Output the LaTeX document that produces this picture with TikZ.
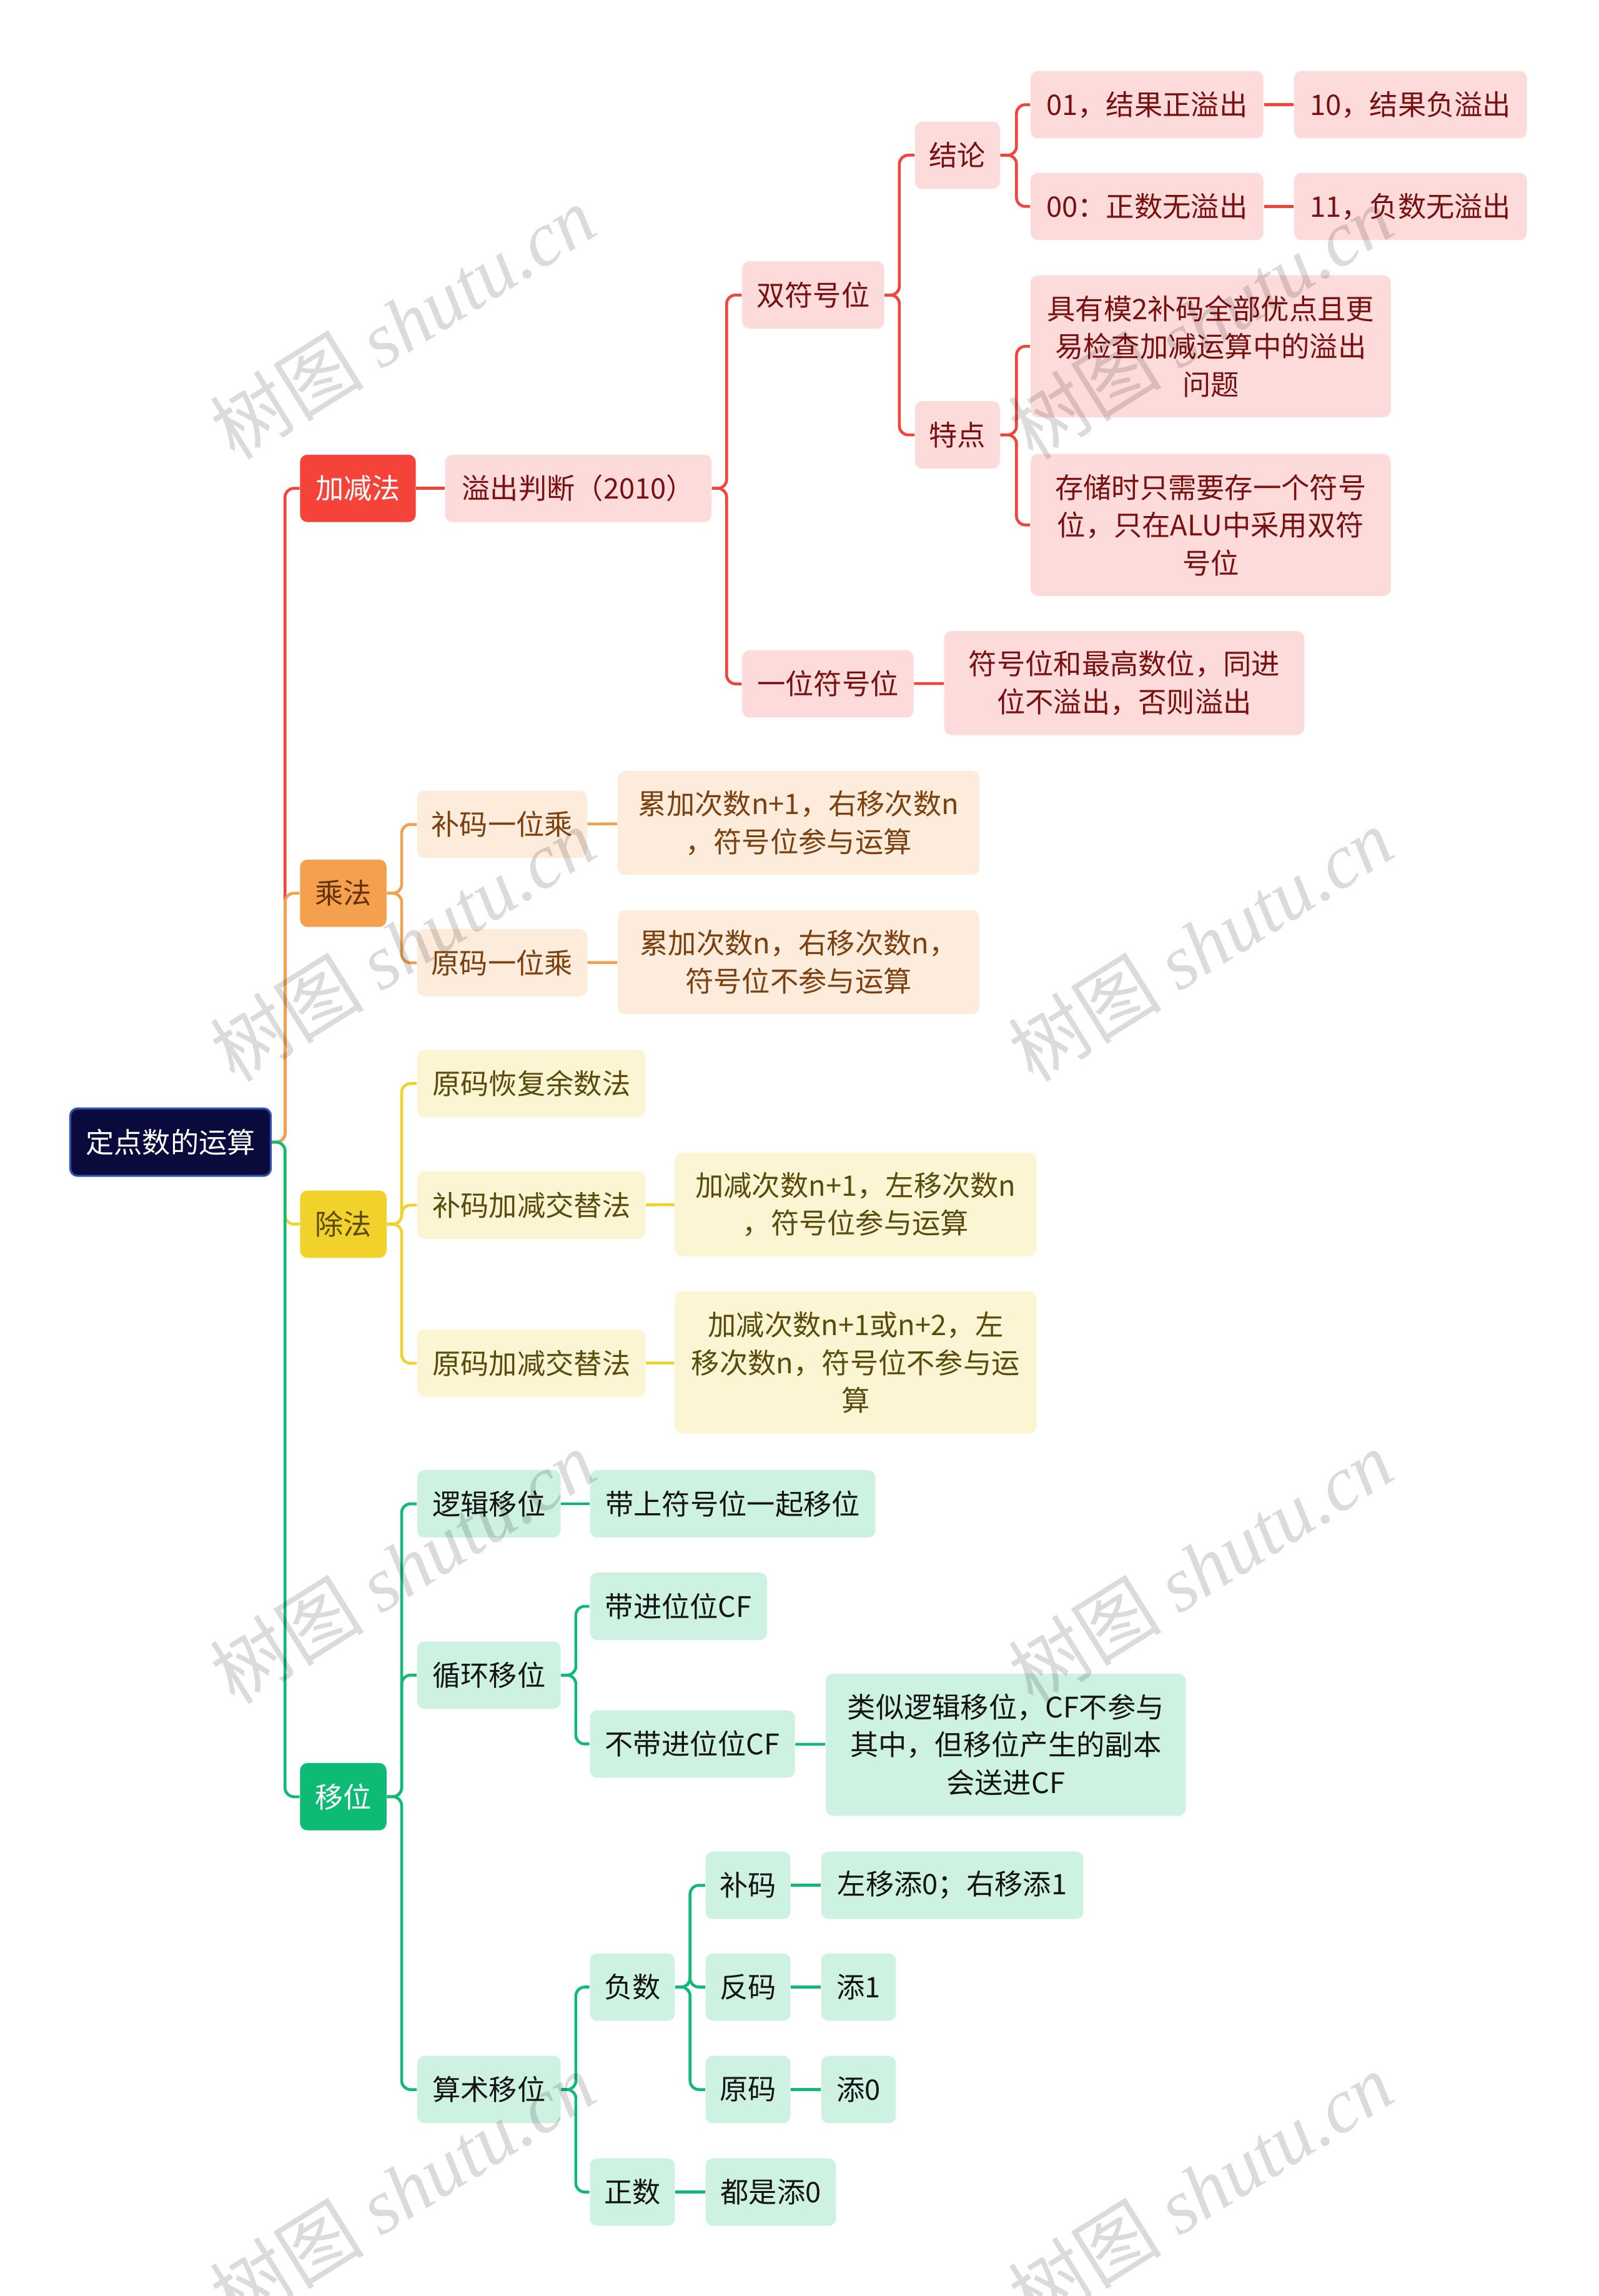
\documentclass[tikz,border=0pt]{standalone}
\usepackage{fontspec}
\setmainfont{Noto Sans CJK SC}
\newfontfamily\wmlatin{Liberation Serif}
\definecolor{rootbg}{HTML}{0A0A3C}
\definecolor{rootline}{HTML}{2C4FB0}
\definecolor{redmain}{HTML}{F5433A}
\definecolor{redlight}{HTML}{FDDBDA}
\definecolor{redtext}{HTML}{7A0F0F}
\definecolor{orgmain}{HTML}{F5A04C}
\definecolor{orglight}{HTML}{FDEBDC}
\definecolor{orgtext}{HTML}{7C3F0E}
\definecolor{ylwmain}{HTML}{F1D22B}
\definecolor{ylwlight}{HTML}{FBF5D3}
\definecolor{ylwtext}{HTML}{5A4B0C}
\definecolor{grnmain}{HTML}{0DBB74}
\definecolor{grnlight}{HTML}{CEF2E2}
\definecolor{grntext}{HTML}{141414}

\begin{document}
\begin{tikzpicture}[
  x=0.02cm, y=-0.02cm,
  font=\fontsize{11pt}{14.7pt}\selectfont,
  box/.style={rounded corners=0.1cm, align=center, inner sep=0pt, minimum height=0.92cm},
  boxw/.style={minimum width=#1*0.02cm},
  two/.style={minimum height=1.42cm},
  three/.style={minimum height=1.94cm},
  rootbox/.style={box, fill=rootbg, draw=rootline, line width=0.8pt, text=white},
  redtop/.style={box, fill=redmain, text=white},
  redsub/.style={box, fill=redlight, text=redtext},
  orgtop/.style={box, fill=orgmain, text=orgtext!80!black},
  orgsub/.style={box, fill=orglight, text=orgtext},
  ylwtop/.style={box, fill=ylwmain, text=ylwtext},
  ylwsub/.style={box, fill=ylwlight, text=ylwtext},
  grntop/.style={box, fill=grnmain, text=white},
  grnsub/.style={box, fill=grnlight, text=grntext},
  ln/.style={draw=#1, line width=1.1pt, rounded corners=0.12cm},
  wmark/.style={rotate=32, text=black, text opacity=0.14, font=\fontsize{30pt}{30pt}\selectfont},
]
% canvas in pixels of the 1092 x 1568 sketch, y grows downwards
\useasboundingbox (0,0) rectangle (1092,1568);

% --- root -------------------------------------------------------------------
\node[rootbox, boxw=137] (root) at (116.5,780) {定点数的运算};

% --- 加减法 (red) -------------------------------------------------------------
\node[redtop, boxw=79] (jiajian) at (244.5,333.5) {加减法};
\node[redsub, boxw=182] (yichu) at (395,333.5) {溢出判断（2010）};
\node[redsub, boxw=97] (shuang) at (555.5,201.5) {双符号位};
\node[redsub, boxw=58] (jielun) at (654,106) {结论};
\node[redsub, boxw=159] (c01) at (783.5,71.5) {01，结果正溢出};
\node[redsub, boxw=159] (c10) at (963.5,71.5) {10，结果负溢出};
\node[redsub, boxw=159] (c00) at (783.5,141) {00：正数无溢出};
\node[redsub, boxw=159] (c11) at (963.5,141) {11，负数无溢出};
\node[redsub, boxw=58] (tedian) at (654,297) {特点};
\node[redsub, three, boxw=246] (td1) at (827,236.5)
  {具有模2补码全部优点且更\\易检查加减运算中的溢出\\问题};
\node[redsub, three, boxw=246] (td2) at (827,358.5)
  {存储时只需要存一个符号\\位，只在ALU中采用双符\\号位};
\node[redsub, boxw=117] (danfu) at (565.5,467) {一位符号位};
\node[redsub, two, boxw=246] (danfud) at (768,466.5)
  {符号位和最高数位，同进\\位不溢出，否则溢出};

% --- 乘法 (orange) ------------------------------------------------------------
\node[orgtop, boxw=59] (chengfa) at (234.5,610) {乘法};
\node[orgsub, boxw=116] (bumul) at (343,563) {补码一位乘};
\node[orgsub, two, boxw=247] (bumuld) at (545.5,562)
  {累加次数n+1，右移次数n\\，符号位参与运算};
\node[orgsub, boxw=116] (yuanmul) at (343,657.5) {原码一位乘};
\node[orgsub, two, boxw=247] (yuanmuld) at (545.5,657)
  {累加次数n，右移次数n，\\符号位不参与运算};

% --- 除法 (yellow) ------------------------------------------------------------
\node[ylwtop, boxw=59] (chufa) at (234.5,836) {除法};
\node[ylwsub, boxw=156] (huifu) at (363,740) {原码恢复余数法};
\node[ylwsub, boxw=156] (bujj) at (363,823) {补码加减交替法};
\node[ylwsub, two, boxw=247] (bujjd) at (584.5,822.5)
  {加减次数n+1，左移次数n\\，符号位参与运算};
\node[ylwsub, boxw=156] (yuanjj) at (363,931) {原码加减交替法};
\node[ylwsub, three, boxw=247] (yuanjjd) at (584.5,930.5)
  {加减次数n+1或n+2，左\\移次数n，符号位不参与运\\算};

% --- 移位 (green) -------------------------------------------------------------
\node[grntop, boxw=59] (yiwei) at (234.5,1227) {移位};
\node[grnsub, boxw=98] (luoji) at (334,1027) {逻辑移位};
\node[grnsub, boxw=195] (luojid) at (500.5,1027) {带上符号位一起移位};
\node[grnsub, boxw=98] (xunhuan) at (334,1144) {循环移位};
\node[grnsub, boxw=121] (daicf) at (463.5,1097) {带进位位CF};
\node[grnsub, boxw=140] (budaicf) at (473,1191) {不带进位位CF};
\node[grnsub, three, boxw=246] (budaicfd) at (687,1191.5)
  {类似逻辑移位，CF不参与\\其中，但移位产生的副本\\会送进CF};
\node[grnsub, boxw=98] (suanshu) at (334,1427) {算术移位};
\node[grnsub, boxw=58] (fushu) at (432,1357) {负数};
\node[grnsub, boxw=58] (buma) at (511,1287.5) {补码};
\node[grnsub, boxw=179] (bumad) at (650.5,1287.5) {左移添0；右移添1};
\node[grnsub, boxw=58] (fanma) at (511,1357) {反码};
\node[grnsub, boxw=51] (fanmad) at (586.5,1357) {添1};
\node[grnsub, boxw=58] (yuanma) at (511,1427) {原码};
\node[grnsub, boxw=51] (yuanmad) at (586.5,1427) {添0};
\node[grnsub, boxw=58] (zhengshu) at (432,1497) {正数};
\node[grnsub, boxw=89] (zhengshud) at (526.5,1497) {都是添0};

% --- connectors ---------------------------------------------------------------
\draw[ln=redmain] (root.east) -- ++(9,0) |- (jiajian.west);
\draw[ln=orgmain] (root.east) -- ++(9,0) |- (chengfa.west);
\draw[ln=ylwmain] (root.east) -- ++(9,0) |- (chufa.west);
\draw[ln=grnmain] (root.east) -- ++(9,0) |- (yiwei.west);

\draw[ln=redmain] (jiajian) -- (yichu);
\foreach \c in {shuang,danfu}
  \draw[ln=redmain] (yichu.east) -- ++(10,0) |- (\c.west);
\foreach \c in {jielun,tedian}
  \draw[ln=redmain] (shuang.east) -- ++(10,0) |- (\c.west);
\foreach \c in {c01,c00}
  \draw[ln=redmain] (jielun.east) -- ++(11,0) |- (\c.west);
\foreach \c in {td1,td2}
  \draw[ln=redmain] (tedian.east) -- ++(11,0) |- (\c.west);
\draw[ln=redmain] (c01) -- (c10);
\draw[ln=redmain] (c00) -- (c11);
\draw[ln=redmain] (danfu) -- (danfud);

\foreach \c in {bumul,yuanmul}
  \draw[ln=orgmain] (chengfa.east) -- ++(10,0) |- (\c.west);
\draw[ln=orgmain] (bumul) -- (bumuld);
\draw[ln=orgmain] (yuanmul) -- (yuanmuld);

\foreach \c in {huifu,bujj,yuanjj}
  \draw[ln=ylwmain] (chufa.east) -- ++(10,0) |- (\c.west);
\draw[ln=ylwmain] (bujj) -- (bujjd);
\draw[ln=ylwmain] (yuanjj) -- (yuanjjd);

\foreach \c in {luoji,xunhuan,suanshu}
  \draw[ln=grnmain] (yiwei.east) -- ++(10,0) |- (\c.west);
\draw[ln=grnmain] (luoji) -- (luojid);
\foreach \c in {daicf,budaicf}
  \draw[ln=grnmain] (xunhuan.east) -- ++(10,0) |- (\c.west);
\draw[ln=grnmain] (budaicf) -- (budaicfd);
\foreach \c in {fushu,zhengshu}
  \draw[ln=grnmain] (suanshu.east) -- ++(10,0) |- (\c.west);
\foreach \c in {buma,fanma,yuanma}
  \draw[ln=grnmain] (fushu.east) -- ++(10,0) |- (\c.west);
\draw[ln=grnmain] (buma) -- (bumad);
\draw[ln=grnmain] (fanma) -- (fanmad);
\draw[ln=grnmain] (yuanma) -- (yuanmad);
\draw[ln=grnmain] (zhengshu) -- (zhengshud);

% --- watermark ----------------------------------------------------------------
\foreach \wx/\wy [count=\i] in {275/220,820/220,275/645,820/645,275/1070,820/1070,275/1495,820/1495}
  \node[wmark] (wm\i) at (\wx,\wy) {树图 {\wmlatin\itshape shutu.cn}};
\end{tikzpicture}
\end{document}
